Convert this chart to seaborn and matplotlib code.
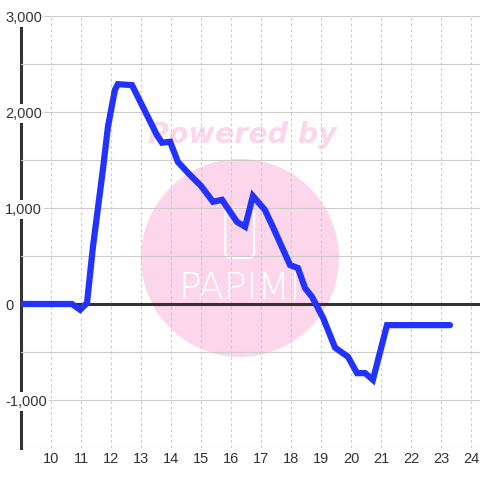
import numpy as np
import pandas as pd
import seaborn as sns
from matplotlib import pyplot as plt
from matplotlib.patches import Ellipse, FancyBboxPatch

sns.set_style('white')
plt.rcParams['font.family'] = ['Liberation Sans', 'DejaVu Sans']

# hour of day and value
hours = [9.0, 10.7, 10.97, 11.2, 11.4, 11.73, 11.9, 12.13, 12.23, 12.7,
         13.53, 13.7, 13.97, 14.23, 14.57, 15.0, 15.4, 15.7, 16.2, 16.47,
         16.73, 17.13, 17.4, 17.97, 18.23, 18.47, 18.7, 19.07, 19.47, 19.9,
         20.2, 20.47, 20.73, 21.2, 23.3]
values = [0, 0, -60, 10, 600, 1400, 1850, 2230, 2290, 2280,
          1760, 1680, 1690, 1480, 1365, 1230, 1065, 1085, 855, 805,
          1125, 980, 800, 405, 375, 165, 75, -145, -455, -550,
          -720, -720, -790, -220, -220]
x_ticks = list(range(10, 25))
y_ticks = list(range(-1500, 3001, 500))

df = pd.DataFrame({'hour': hours, 'value': values})

fig = plt.figure(figsize=(4.8, 4.8), dpi=100)
ax = fig.add_axes([21 / 480, 32 / 480, 459 / 480, 432 / 480])

# watermark
ax.add_patch(Ellipse((0.477, 0.44), 198 / 459, 198 / 432, transform=ax.transAxes,
                     facecolor='#fcd6ea', edgecolor='none', zorder=1))
ax.add_patch(FancyBboxPatch((0.445, 0.44), 0.063, 0.115, transform=ax.transAxes,
                            boxstyle='round,pad=0,rounding_size=0.012',
                            facecolor='none', edgecolor='white', lw=1.5, zorder=1.2))
ax.text(0.482, 0.725, 'Powered by', transform=ax.transAxes, ha='center', va='center',
        fontsize=20.5, fontweight='heavy', style='italic', color='#fcd6ea',
        family='DejaVu Sans', zorder=1.1)
ax.text(0.477, 0.37, 'PAPIMI', transform=ax.transAxes, ha='center', va='center',
        fontsize=27, fontweight='light', color='white', family='DejaVu Sans', zorder=1.2)

ax.axhline(0, color='#333333', lw=2.2, zorder=4)
sns.lineplot(data=df, x='hour', y='value', ax=ax, sort=False, color='#2233ff',
             lw=4.5, zorder=5, solid_joinstyle='miter')

ax.set_xlim(9, 24.3)
ax.set_ylim(-1500, 3000)
ax.set_xticks(x_ticks)
ax.set_yticks(y_ticks)
ax.set_yticklabels(['{:,}'.format(v) if v % 1000 == 0 else '' for v in y_ticks])
ax.set_xlabel('')
ax.set_ylabel('')

ax.xaxis.grid(True, color='#cccccc', lw=0.8, ls=(0, (2.5, 2.5)))
ax.yaxis.grid(True, color='#cccccc', lw=0.8)
ax.xaxis.set_zorder(3)
ax.yaxis.set_zorder(3)
ax.tick_params(axis='x', length=0, pad=3, labelsize=10.5, labelcolor='#333333')
ax.tick_params(axis='y', length=0, pad=11.5, labelsize=10.5, labelcolor='#333333')
for lab in ax.get_yticklabels():
    lab.set_ha('left')
    lab.set_bbox(dict(facecolor='white', edgecolor='none', pad=1.5))

for side in ['top', 'right', 'bottom']:
    ax.spines[side].set_visible(False)
ax.spines['left'].set_color('#333333')
ax.spines['left'].set_linewidth(2.2)
ax.spines['left'].set_zorder(2.5)

fig.savefig('out.png', dpi=100)
